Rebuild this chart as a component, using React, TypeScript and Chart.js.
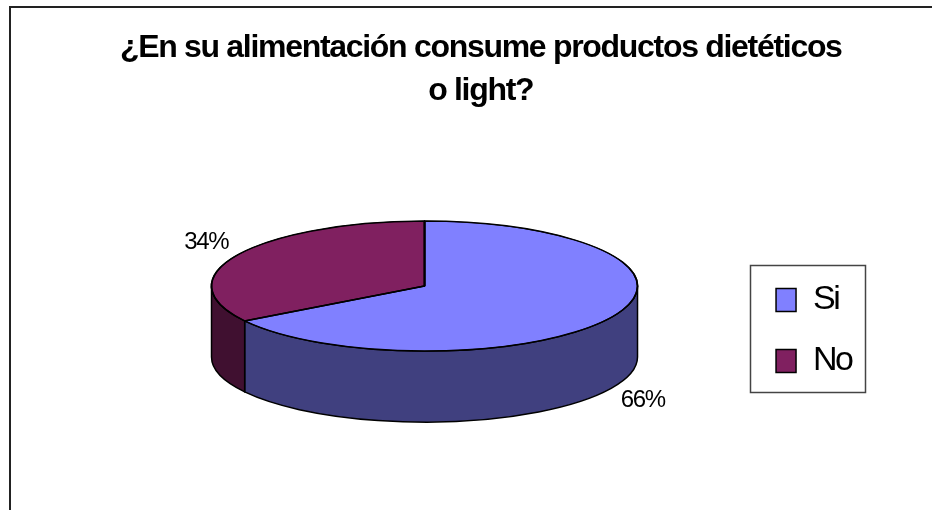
import React, { useEffect, useRef } from 'react';
import { Chart, registerables } from 'chart.js';

Chart.register(...registerables);

// ---- data ----
const TITLE_LINES = ['¿En su alimentación consume productos dietéticos', 'o light?'];
const CATEGORIES = ['Si', 'No'];
const VALUES = [66, 34];

// ---- style ----
const TOP_COLORS = ['#8080FF', '#802060'];
const SIDE_COLORS = ['#40407F', '#401030'];
const FONT = "'Liberation Sans', Arial, Helvetica, sans-serif";
const PIE = { rx: 213, ry: 65, depth: 71, dy: -44.5 };

function geom(arc: any) {
  return {
    ex: arc.x,
    ey: arc.y + PIE.dy,
    rx: PIE.rx,
    ry: PIE.ry,
    d: PIE.depth,
    r: arc.outerRadius,
  };
}

const spacingPlugin = {
  id: 'spacing',
  afterInit(chart: any) {
    const wrap = (obj: any, name: string, sp: string) => {
      if (!obj || typeof obj[name] !== 'function') return;
      const orig = obj[name];
      obj[name] = function (...args: any[]) {
        const ctx = chart.ctx;
        const prev = ctx.letterSpacing;
        ctx.letterSpacing = sp;
        try {
          return orig.apply(this, args);
        } finally {
          ctx.letterSpacing = prev || '0px';
        }
      };
    };
    wrap(chart.legend, 'fit', '-2.5px');
    wrap(chart.legend, 'draw', '-2.5px');
    wrap(chart.titleBlock, 'draw', '-1.3px');
  },
};

const pie3d = {
  id: 'pie3d',
  _saved: false,
  beforeDraw(chart: any) {
    const ctx = chart.ctx;
    ctx.save();
    ctx.strokeStyle = '#222';
    ctx.lineWidth = 2;
    ctx.beginPath();
    ctx.moveTo(10, chart.height + 10);
    ctx.lineTo(10, 7);
    ctx.lineTo(chart.width + 10, 7);
    ctx.stroke();
    ctx.restore();
  },
  beforeDatasetsDraw(chart: any) {
    const arcs = chart.getDatasetMeta(0).data;
    (chart as any).$pieSaved = false;
    if (!arcs.length) return;
    const g = geom(arcs[0]);
    const ctx = chart.ctx;
    ctx.save();
    ctx.lineJoin = 'round';
    arcs.forEach((arc: any, i: number) => {
      const s = arc.startAngle;
      const e = arc.endAngle;
      for (const k of [-1, 0, 1]) {
        const lo = Math.max(s, k * 2 * Math.PI);
        const hi = Math.min(e, k * 2 * Math.PI + Math.PI);
        if (hi <= lo) continue;
        ctx.beginPath();
        ctx.ellipse(g.ex, g.ey, g.rx, g.ry, 0, lo, hi, false);
        ctx.ellipse(g.ex, g.ey + g.d, g.rx, g.ry, 0, hi, lo, true);
        ctx.closePath();
        ctx.fillStyle = SIDE_COLORS[i % SIDE_COLORS.length];
        ctx.fill();
        ctx.lineWidth = 1.5;
        ctx.strokeStyle = '#000';
        ctx.stroke();
      }
    });
    ctx.restore();
    // map the library's circular arcs onto the tilted ellipse
    ctx.save();
    ctx.translate(g.ex, g.ey);
    ctx.scale(g.rx / g.r, g.ry / g.r);
    ctx.translate(-arcs[0].x, -arcs[0].y);
    (chart as any).$pieSaved = true;
  },
  afterDatasetsDraw(chart: any) {
    const ctx = chart.ctx;
    if (!(chart as any).$pieSaved) return;
    ctx.restore();
    (chart as any).$pieSaved = false;
    const arcs = chart.getDatasetMeta(0).data;
    const g = geom(arcs[0]);
    const data = chart.data.datasets[0].data as number[];
    const total = data.reduce((a, b) => a + b, 0);
    ctx.save();
    ctx.lineJoin = 'round';
    ctx.lineWidth = 1.5;
    ctx.strokeStyle = '#000';
    arcs.forEach((arc: any) => {
      ctx.beginPath();
      ctx.moveTo(g.ex, g.ey);
      ctx.ellipse(g.ex, g.ey, g.rx, g.ry, 0, arc.startAngle, arc.endAngle, false);
      ctx.closePath();
      ctx.stroke();
    });
    // percentage labels
    ctx.font = `24px ${FONT}`;
    (ctx as any).letterSpacing = '-1.3px';
    ctx.fillStyle = '#000';
    ctx.textAlign = 'center';
    ctx.textBaseline = 'middle';
    arcs.forEach((arc: any, i: number) => {
      const m = (arc.startAngle + arc.endAngle) / 2;
      const c = Math.cos(m);
      const s = Math.sin(m);
      const lx = g.ex + (g.rx + 36) * c;
      const ly = g.ey + (g.ry + 25) * s + (s > 0 ? g.d : 0);
      const pct = Math.round((data[i] / total) * 100) + '%';
      ctx.fillText(pct, lx, ly);
    });
    ctx.restore();
  },
  afterDraw(chart: any) {
    const lg = chart.legend;
    if (!lg || !lg.legendHitBoxes || !lg.legendHitBoxes.length) return;
    const hb = lg.legendHitBoxes;
    const top = Math.min(...hb.map((h: any) => h.top));
    const bottom = Math.max(...hb.map((h: any) => h.top + h.height));
    const ctx = chart.ctx;
    ctx.save();
    ctx.strokeStyle = '#444';
    ctx.lineWidth = 1.5;
    const x0 = Math.round(lg.left + 1) + 0.5;
    const y0 = Math.round(top - 18) + 0.5;
    const y1 = Math.round(bottom + 14) + 0.5;
    ctx.strokeRect(x0, y0, 115, y1 - y0);
    ctx.restore();
  },
};

export default function App() {
  const ref = useRef<HTMLCanvasElement>(null);
  useEffect(() => {
    if (!ref.current) return;
    const chart = new Chart(ref.current, {
      type: 'pie',
      data: {
        labels: CATEGORIES,
        datasets: [
          {
            data: VALUES,
            backgroundColor: TOP_COLORS,
            borderColor: '#000',
            borderWidth: 1.5,
            clip: false,
          } as any,
        ],
      },
      options: {
        responsive: false,
        animation: false,
        devicePixelRatio: 1,
        events: [],
        layout: { padding: { left: 100, right: 70.5, top: 0, bottom: 0 } },
        plugins: {
          title: {
            display: true,
            text: TITLE_LINES,
            color: '#000',
            font: { family: FONT, size: 32, weight: 'bold', lineHeight: 1.33 },
            padding: { top: 27, bottom: 39 },
          },
          legend: {
            display: true,
            position: 'right',
            align: 'center',
            fullSize: false,
            labels: {
              font: { family: FONT, size: 34 },
              color: '#000',
              boxWidth: 20,
              boxHeight: 23,
              padding: 27,
            },
          },
          tooltip: { enabled: false },
        },
      } as any,
      plugins: [spacingPlugin as any, pie3d as any],
    });
    return () => chart.destroy();
  }, []);
  return (
    <div style={{ position: 'fixed', left: 0, top: 0, width: 932, height: 510, background: '#fff' }}>
      <canvas ref={ref} width={932} height={510} style={{ display: 'block', width: 932, height: 510 }} />
    </div>
  );
}
